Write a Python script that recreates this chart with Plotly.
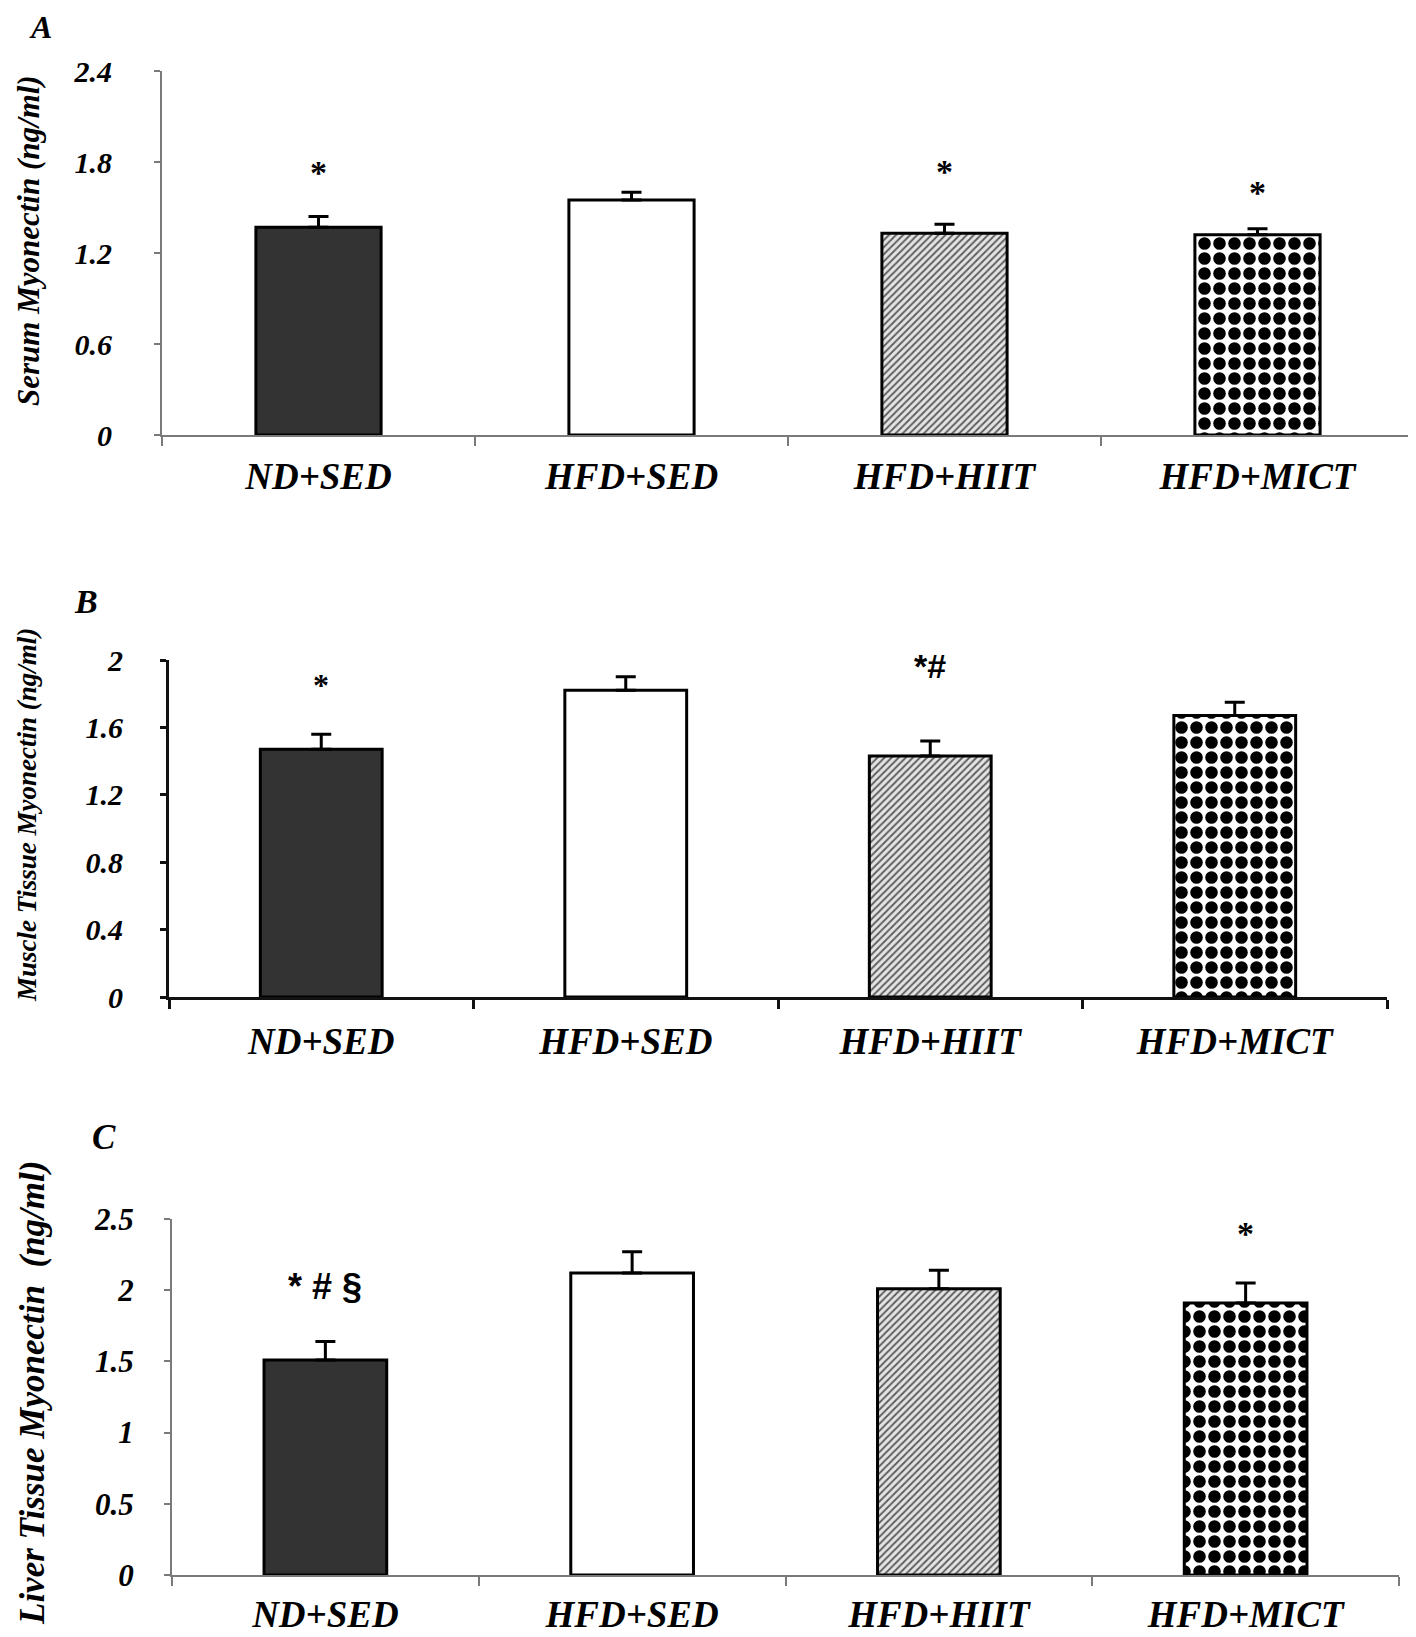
import plotly.graph_objects as go

categories = ["ND+SED", "HFD+SED", "HFD+HIIT", "HFD+MICT"]

# Panel A: Serum myonectin
serum_mean = [1.37, 1.55, 1.33, 1.32]
serum_se = [0.07, 0.05, 0.06, 0.04]
serum_sig = ["*", "", "*", "*"]
serum_sig_y = [1.77, 0, 1.78, 1.64]

# Panel B: Muscle tissue myonectin
muscle_mean = [1.47, 1.82, 1.43, 1.67]
muscle_se = [0.09, 0.08, 0.09, 0.08]
muscle_sig = ["*", "", "*#", ""]
muscle_sig_y = [1.89, 0, 2.0, 0]

# Panel C: Liver tissue myonectin
liver_mean = [1.51, 2.12, 2.01, 1.91]
liver_se = [0.13, 0.15, 0.13, 0.14]
liver_sig = ["* # §", "", "", "*"]
liver_sig_y = [2.07, 0, 0, 2.44]

# page body adds an 8px margin; the figure is sized/positioned to compensate
OFF = 8
W, H = 1416 - OFF, 1637 - OFF
SERIF = "Liberation Serif"
SANS = "Liberation Sans"

# per-group fill styles
bar_colors = ["#333333", "#ffffff", "#d8d8d8", "#ffffff"]
pat_shapes = ["", "", "/", "."]
pat_fg = ["#333333", "#ffffff", "#5e5e5e", "#000000"]
pat_bg = ["#333333", "#ffffff", "#e4e4e4", "#ffffff"]
pat_size = [8, 8, 5, 15]
pat_solid = [0.3, 0.3, 0.38, 0.55]


def px_x(p):
    return (p - OFF) / W


def px_y(p):
    return 1 - (p - OFF) / H


panels = [
    dict(mean=serum_mean, se=serum_se, sig=serum_sig, sig_y=serum_sig_y,
         xd=[162, 1414], yd=[435, 71], yr=[0, 2.4], dt=0.6,
         axcol="#7a7a7a", axw=2, ystand=36, tickfs=30, xfs=37, xstand=8,
         title="Serum Myonectin (ng/ml)", tfs=31, tx=29, ty=241,
         letter="A", lx=40, ly=27, lfs=32, sigfs=[34, 0, 34, 34],
         sigfam=[SERIF, SERIF, SERIF, SERIF]),
    dict(mean=muscle_mean, se=muscle_se, sig=muscle_sig, sig_y=muscle_sig_y,
         xd=[169, 1387], yd=[997, 660], yr=[0, 2.0], dt=0.4,
         axcol="#111111", axw=3, ystand=31, tickfs=30, xfs=37, xstand=10,
         title="Muscle Tissue Myonectin (ng/ml)", tfs=27, tx=27, ty=815,
         letter="B", lx=86, ly=601, lfs=34, sigfs=[32, 0, 34, 0],
         sigfam=[SERIF, SANS, SANS, SANS]),
    dict(mean=liver_mean, se=liver_se, sig=liver_sig, sig_y=liver_sig_y,
         xd=[172, 1399], yd=[1575, 1219], yr=[0, 2.5], dt=0.5,
         axcol="#7a7a7a", axw=2, ystand=24, tickfs=31, xfs=37, xstand=6,
         title="Liver Tissue Myonectin  (ng/ml)", tfs=35, tx=32, ty=1393,
         letter="C", lx=104, ly=1137, lfs=35, sigfs=[36, 0, 0, 34],
         sigfam=[SANS, SANS, SANS, SERIF]),
]

fig = go.Figure()
annotations = []
layout_axes = {}

for i, p in enumerate(panels):
    n = "" if i == 0 else str(i + 1)
    xa, ya = "x" + n, "y" + n
    for j, cat in enumerate(categories):
        pattern = dict(shape=pat_shapes[j], fgcolor=pat_fg[j], bgcolor=pat_bg[j],
                       size=pat_size[j], solidity=pat_solid[j], fillmode="replace")
        fig.add_trace(go.Bar(
            x=[cat], y=[p["mean"][j]], xaxis=xa, yaxis=ya, width=0.4,
            marker=dict(color=bar_colors[j],
                        line=dict(color="#000000", width=3),
                        pattern=pattern),
            error_y=dict(type="data", symmetric=False, array=[p["se"][j]],
                         arrayminus=[0], color="#000000",
                         thickness=3, width=10),
            showlegend=False, hoverinfo="skip",
        ))
    tickfont = dict(family=SERIF, size=p["tickfs"], color="#000000",
                    weight="bold", style="italic")
    layout_axes["xaxis" + n] = dict(
        domain=[px_x(p["xd"][0]), px_x(p["xd"][1])], anchor=ya,
        type="category", categoryorder="array", categoryarray=categories,
        range=[-0.5, 3.5], tickson="boundaries",
        ticks="outside", ticklen=9, tickwidth=p["axw"], tickcolor=p["axcol"],
        showline=True, linecolor=p["axcol"], linewidth=p["axw"],
        showgrid=False, zeroline=False, automargin=False,
        tickfont=dict(family=SERIF, size=p["xfs"], color="#000000",
                      weight="bold", style="italic"),
        ticklabelstandoff=p["xstand"],
    )
    layout_axes["yaxis" + n] = dict(
        domain=[px_y(p["yd"][0]), px_y(p["yd"][1])], anchor=xa,
        range=p["yr"], dtick=p["dt"], tick0=0,
        ticks="outside", ticklen=6, tickwidth=p["axw"], tickcolor=p["axcol"],
        showline=True, linecolor=p["axcol"], linewidth=p["axw"],
        showgrid=False, zeroline=False, tickfont=tickfont, automargin=False,
        ticklabelstandoff=p["ystand"],
    )
    annotations.append(dict(
        text=p["title"], xref="paper", yref="paper",
        x=px_x(p["tx"]), y=px_y(p["ty"]), textangle=-90, showarrow=False,
        xanchor="center", yanchor="middle",
        font=dict(family=SERIF, size=p["tfs"], color="#000000",
                  weight="bold", style="italic"),
    ))
    annotations.append(dict(
        text=p["letter"], xref="paper", yref="paper",
        x=px_x(p["lx"]), y=px_y(p["ly"]), showarrow=False,
        xanchor="center", yanchor="middle",
        font=dict(family=SERIF, size=p["lfs"], color="#000000",
                  weight="bold", style="italic"),
    ))
    for c, s, sy, fs, fam in zip(categories, p["sig"], p["sig_y"], p["sigfs"], p["sigfam"]):
        if s:
            annotations.append(dict(
                text=s, xref=xa, yref=ya, x=c, y=sy, showarrow=False,
                xanchor="center", yanchor="middle", yshift=-6,
                font=dict(family=fam, size=fs, color="#000000", weight="bold"),
            ))

fig.update_layout(
    width=W, height=H,
    margin=dict(l=0, r=0, t=0, b=0, pad=0, autoexpand=False),
    paper_bgcolor="#ffffff", plot_bgcolor="#ffffff",
    annotations=annotations, barmode="overlay",
    **layout_axes,
)

fig.write_html("out.html")
